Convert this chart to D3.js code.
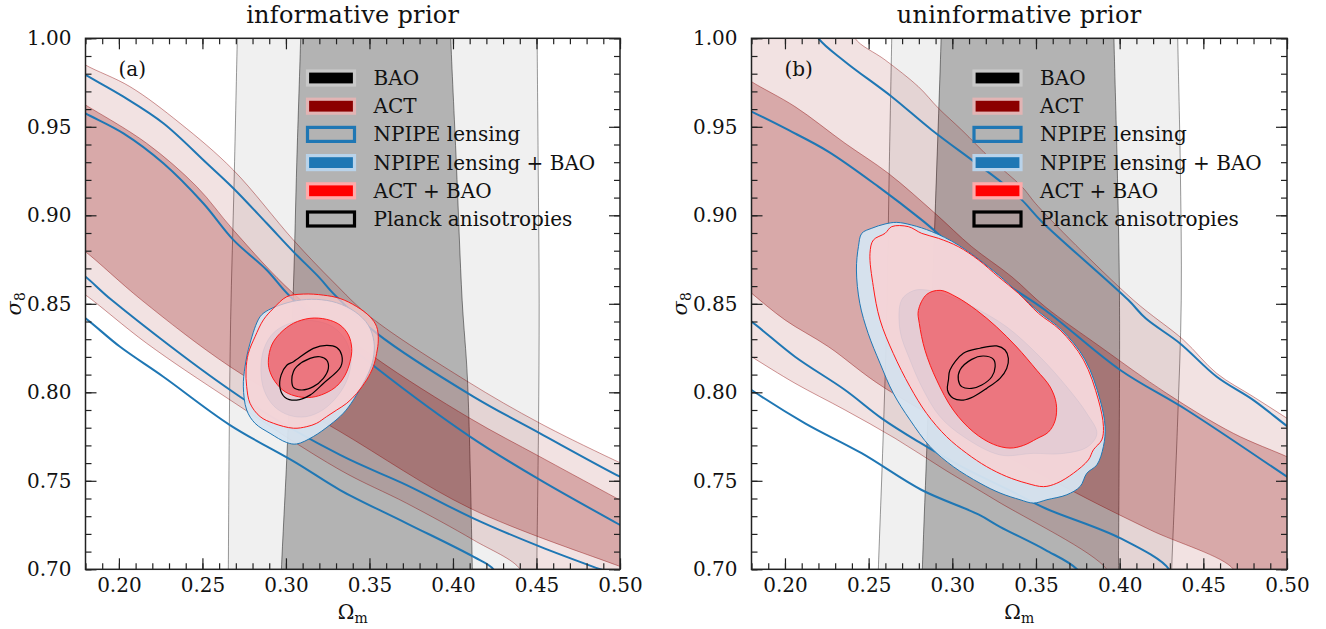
<!DOCTYPE html>
<html>
<head>
<meta charset="utf-8">
<script src="https://cdn.jsdelivr.net/npm/d3@7"></script>
<style>
  body { margin: 0; background: #fff; }
  svg text { font-family: "DejaVu Serif", serif; fill: #111; }
  .axis path.domain { display: none; }
  .axis line { stroke: #222; stroke-width: 1.2; }
  .axis text { font-size: 20px; font-family: "DejaVu Serif", serif; fill: #111; }
</style>
</head>
<body>
<div id="chart"></div>
<script>
// ---- ticks and labels ----
const omMajor = [0.20, 0.25, 0.30, 0.35, 0.40, 0.45, 0.50];
const s8Major = [0.70, 0.75, 0.80, 0.85, 0.90, 0.95, 1.00];
const omMinor = d3.range(18, 51).map(v => v / 100);
const s8Minor = d3.range(70, 101).map(v => v / 100);
const titles = ["informative prior", "uninformative prior"];
const panelTags = ["(a)", "(b)"];
const legendLabels = ["BAO", "ACT", "NPIPE lensing", "NPIPE lensing + BAO", "ACT + BAO", "Planck anisotropies"];

// ---- panel (a): informative prior  [Omega_m, sigma_8] ----
const baoOuterA = [[0.2712,1.01],[0.2709,1.0],[0.2690,0.92],[0.2669,0.841],[0.2660,0.77],[0.2655,0.70],[0.2654,0.69],
  [0.4502,0.69],[0.4502,0.70],[0.4512,0.78],[0.4516,0.85],[0.4510,0.93],[0.4504,1.0],[0.4504,1.01]];
const baoInnerA = [[0.3090,1.01],[0.3088,1.0],[0.3065,0.93],[0.3045,0.86],[0.3009,0.771],[0.2973,0.70],[0.2970,0.69],
  [0.4118,0.69],[0.4116,0.70],[0.4087,0.807],[0.4055,0.852],[0.4020,0.93],[0.3987,1.0],[0.3985,1.01]];

const actOuterUpperA = [[0.17,0.991],[0.18,0.9849],[0.2066,0.9727],[0.2366,0.9520],[0.2685,0.9256],[0.3044,0.8861],
  [0.3283,0.8624],[0.3503,0.8428],[0.4082,0.8064],[0.4521,0.7825],[0.50,0.7602],[0.51,0.756]];
const actOuterLowerA = [[0.17,0.861],[0.18,0.855],[0.2166,0.8277],[0.2665,0.7957],[0.3324,0.7561],[0.3723,0.7373],
  [0.4122,0.7166],[0.4402,0.70],[0.4420,0.69]];
const actInnerUpperA = [[0.17,0.968],[0.18,0.9623],[0.2166,0.9407],[0.2466,0.9162],[0.2685,0.8917],[0.3044,0.8559],
  [0.3524,0.8202],[0.4102,0.7853],[0.4521,0.7636],[0.50,0.7391],[0.51,0.734]];
const actInnerLowerA = [[0.17,0.886],[0.18,0.8794],[0.2136,0.8521],[0.2665,0.8145],[0.3324,0.7778],[0.4102,0.7345],
  [0.50,0.7016],[0.51,0.698]];

const npipe2UpperA = [[0.17,0.985],[0.18,0.9793],[0.2027,0.9670],[0.2266,0.9520],[0.2526,0.9294],[0.2685,0.9153],
  [0.2885,0.8955],[0.3044,0.8795],[0.3204,0.8644],[0.3283,0.8559],[0.3544,0.8333],[0.4122,0.7976],[0.4521,0.7768],
  [0.50,0.7523],[0.51,0.748]];
const npipe2LowerA = [[0.17,0.848],[0.18,0.8418],[0.2007,0.8257],[0.2266,0.8088],[0.2665,0.7815],[0.3064,0.7600],
  [0.3324,0.7448],[0.3723,0.7260],[0.4122,0.7071],[0.4242,0.70],[0.428,0.69]];
const npipe1UpperA = [[0.17,0.963],[0.18,0.9576],[0.2027,0.9463],[0.2266,0.9294],[0.2505,0.9068],[0.2685,0.8861],
  [0.2885,0.8691],[0.3025,0.8541],[0.3544,0.8136],[0.4102,0.7750],[0.4521,0.7505],[0.50,0.7251],[0.51,0.720]];
const npipe1LowerA = [[0.17,0.872],[0.18,0.8653],[0.1957,0.8521],[0.2725,0.7975],[0.3324,0.7646],[0.3723,0.7476],
  [0.4122,0.7288],[0.4521,0.7128],[0.4881,0.70],[0.50,0.696]];

const npipeBaoOuterA = [[0.2895,0.8465],[0.2965,0.8493],[0.3064,0.8518],[0.3184,0.8525],[0.3304,0.8506],[0.3414,0.8455],
  [0.3493,0.8380],[0.3527,0.8286],[0.3523,0.8192],[0.3493,0.8107],[0.3404,0.7957],[0.3344,0.7882],[0.3264,0.7816],
  [0.3164,0.7750],[0.3064,0.7708],[0.3005,0.7716],[0.2905,0.7768],[0.2815,0.7825],[0.2765,0.7900],[0.2745,0.8031],
  [0.2755,0.8145],[0.2785,0.8277],[0.2845,0.8427]];
const npipeBaoInnerA = [[0.2870,0.8250],[0.2930,0.8340],[0.3040,0.8395],[0.3160,0.8405],[0.3280,0.8370],[0.3360,0.8290],
  [0.3390,0.8190],[0.3370,0.8080],[0.3310,0.7980],[0.3220,0.7900],[0.3120,0.7862],[0.3020,0.7870],[0.2930,0.7920],
  [0.2870,0.8010],[0.2850,0.8130]];
const actBaoOuterA = [[0.3005,0.8540],[0.3104,0.8555],[0.3224,0.8549],[0.3324,0.8530],[0.3424,0.8484],[0.3503,0.8427],
  [0.3543,0.8371],[0.3553,0.8296],[0.3543,0.8220],[0.3523,0.8145],[0.3483,0.8070],[0.3424,0.7994],[0.3364,0.7938],
  [0.3304,0.7900],[0.3244,0.7863],[0.3184,0.7825],[0.3125,0.7806],[0.3045,0.7797],[0.2925,0.7825],[0.2845,0.7863],
  [0.2785,0.7938],[0.2765,0.8032],[0.2761,0.8126],[0.2775,0.8220],[0.2815,0.8314],[0.2865,0.8409],[0.2925,0.8474]];
const actBaoInnerA = [[0.2895,0.8182],[0.2915,0.8267],[0.2965,0.8333],[0.3045,0.8390],[0.3144,0.8418],[0.3244,0.8412],
  [0.3324,0.8380],[0.3374,0.8324],[0.3394,0.8248],[0.3384,0.8173],[0.3354,0.8097],[0.3304,0.8035],[0.3234,0.7994],
  [0.3155,0.7972],[0.3075,0.7975],[0.2995,0.8003],[0.2935,0.8060],[0.2901,0.8126]];
const planckOuterA = [[0.3045,0.8173],[0.3164,0.8248],[0.3244,0.8265],[0.3304,0.8253],[0.3334,0.8210],[0.3328,0.8144],
  [0.3224,0.8050],[0.3144,0.7984],[0.3064,0.7956],[0.2995,0.7971],[0.2965,0.8022],[0.2971,0.8097],[0.3005,0.8153]];
const planckInnerA = [[0.3064,0.8145],[0.3144,0.8192],[0.3204,0.8201],[0.3244,0.8182],[0.3254,0.8135],[0.3224,0.8079],
  [0.3164,0.8032],[0.3095,0.8013],[0.3045,0.8028],[0.3035,0.8070],[0.3045,0.8117]];

// ---- panel (b): uninformative prior ----
const baoOuterB = [[0.2640,1.01],[0.2638,1.0],[0.2622,0.92],[0.2608,0.841],[0.2585,0.77],[0.2558,0.70],[0.2555,0.69],
  [0.4309,0.69],[0.4311,0.70],[0.4345,0.78],[0.4368,0.852],[0.4362,0.93],[0.4347,1.0],[0.4346,1.01]];
const baoInnerB = [[0.2935,1.01],[0.2933,1.0],[0.2897,0.90],[0.2847,0.767],[0.2821,0.70],[0.2819,0.69],
  [0.3993,0.69],[0.3993,0.70],[0.3999,0.852],[0.3985,0.93],[0.3966,1.0],[0.3965,1.01]];

const actOuterUpperB = [[0.17,1.01],[0.2400,1.01],[0.2419,1.0],[0.2598,0.9878],[0.2797,0.9727],[0.2917,0.9605],
  [0.3056,0.9482],[0.3236,0.9313],[0.3415,0.9162],[0.3514,0.9049],[0.4082,0.8521],[0.4381,0.8296],[0.4580,0.8107],
  [0.4799,0.7975],[0.50,0.7853],[0.51,0.779]];
const actOuterLowerB = [[0.17,0.826],[0.18,0.8201],[0.2060,0.8051],[0.2359,0.7900],[0.2658,0.7740],[0.2957,0.7561],
  [0.3256,0.7392],[0.3923,0.70],[0.395,0.69]];
const actInnerUpperB = [[0.17,0.982],[0.18,0.9755],[0.2060,0.9614],[0.2359,0.9407],[0.2618,0.9237],[0.2897,0.9011],
  [0.3116,0.8823],[0.3355,0.8653],[0.3554,0.8484],[0.3883,0.8258],[0.4281,0.7994],[0.4680,0.7768],[0.50,0.7636],[0.51,0.759]];
const actInnerLowerB = [[0.17,0.864],[0.18,0.8560],[0.2000,0.8409],[0.2259,0.8258],[0.2598,0.8023],[0.3743,0.7430],
  [0.4182,0.7223],[0.4680,0.70],[0.470,0.69]];

const npipe2UpperB = [[0.17,1.01],[0.215,1.01],[0.2200,1.0],[0.2359,0.9868],[0.2638,0.9670],[0.2877,0.9482],
  [0.3116,0.9313],[0.3276,0.9200],[0.3415,0.9087],[0.3535,0.8964],[0.4052,0.8521],[0.4155,0.8418],[0.4361,0.8276],
  [0.4580,0.8088],[0.4799,0.7956],[0.50,0.7809],[0.51,0.774]];
const npipe2LowerB = [[0.17,0.808],[0.18,0.8013],[0.2120,0.7825],[0.2458,0.7656],[0.2817,0.7448],[0.3156,0.7310],
  [0.3285,0.7240],[0.3555,0.7110],[0.3745,0.70],[0.380,0.69]];
const npipe1UpperB = [[0.17,0.963],[0.18,0.9586],[0.2020,0.9482],[0.2259,0.9360],[0.2558,0.9162],[0.2817,0.8974],
  [0.3056,0.8785],[0.3315,0.8616],[0.3554,0.8465],[0.4003,0.8126],[0.4401,0.7900],[0.50,0.7523],[0.51,0.746]];
const npipe1LowerB = [[0.17,0.846],[0.18,0.8399],[0.2060,0.8201],[0.2359,0.8013],[0.2578,0.7853],[0.2797,0.7721],
  [0.3056,0.7580],[0.3355,0.7440],[0.3555,0.7345],[0.4003,0.7176],[0.4295,0.70],[0.432,0.69]];

const npipeBaoOuterB = [[0.2439,0.8823],[0.2459,0.8898],[0.2519,0.8927],[0.2598,0.8951],[0.2668,0.8960],[0.2757,0.8945],
  [0.2877,0.8908],[0.3036,0.8832],[0.3275,0.8663],[0.3515,0.8456],[0.3654,0.8352],[0.3794,0.8183],[0.3883,0.7957],
  [0.3913,0.7806],[0.3903,0.7694],[0.3864,0.7590],[0.3804,0.7543],[0.3764,0.7468],[0.3684,0.7421],[0.3565,0.7393],
  [0.3485,0.7374],[0.3405,0.7393],[0.3285,0.7431],[0.3166,0.7486],[0.3006,0.7580],[0.2867,0.7693],[0.2747,0.7844],
  [0.2647,0.7995],[0.2568,0.8164],[0.2497,0.8333],[0.2447,0.8503],[0.2427,0.8691]];
const npipeBaoInnerB = [[0.2697,0.8522],[0.2767,0.8574],[0.2847,0.8578],[0.2990,0.8540],[0.3126,0.8482],[0.3326,0.8369],
  [0.3525,0.8199],[0.3685,0.8030],[0.3805,0.7879],[0.3864,0.7766],[0.3805,0.7690],[0.3645,0.7653],[0.3485,0.7655],
  [0.3286,0.7646],[0.3066,0.7750],[0.2926,0.7863],[0.2827,0.8013],[0.2747,0.8183],[0.2687,0.8352]];
const actBaoOuterB = [[0.2598,0.8898],[0.2638,0.8936],[0.2737,0.8936],[0.2817,0.8898],[0.2917,0.8870],[0.3036,0.8823],
  [0.3156,0.8748],[0.3275,0.8653],[0.3395,0.8559],[0.3515,0.8446],[0.3644,0.8352],[0.3784,0.8183],[0.3873,0.7957],
  [0.3903,0.7806],[0.3893,0.7731],[0.3843,0.7675],[0.3813,0.7618],[0.3724,0.7543],[0.3624,0.7486],[0.3545,0.7467],
  [0.3445,0.7486],[0.3325,0.7524],[0.3205,0.7580],[0.3086,0.7655],[0.2966,0.7749],[0.2846,0.7881],[0.2747,0.8032],
  [0.2647,0.8220],[0.2568,0.8409],[0.2528,0.8597],[0.2508,0.8785],[0.2528,0.8860]];
const actBaoInnerB = [[0.2797,0.8462],[0.2847,0.8553],[0.2927,0.8576],[0.3026,0.8538],[0.3146,0.8463],[0.3265,0.8369],
  [0.3385,0.8256],[0.3505,0.8124],[0.3585,0.8030],[0.3621,0.7936],[0.3615,0.7842],[0.3575,0.7776],[0.3505,0.7738],
  [0.3425,0.7700],[0.3345,0.7685],[0.3246,0.7706],[0.3126,0.7776],[0.3006,0.7899],[0.2907,0.8068],[0.2837,0.8237],
  [0.2803,0.8388]];
const planckOuterB = [[0.2986,0.8126],[0.3066,0.8220],[0.3166,0.8249],[0.3265,0.8262],[0.3315,0.8239],[0.3335,0.8192],
  [0.3325,0.8135],[0.3285,0.8079],[0.3205,0.8022],[0.3126,0.7975],[0.3066,0.7956],[0.3006,0.7966],[0.2971,0.8013],
  [0.2977,0.8070]];
const planckInnerB = [[0.3046,0.8126],[0.3116,0.8186],[0.3186,0.8205],[0.3246,0.8186],[0.3256,0.8145],[0.3236,0.8088],
  [0.3176,0.8041],[0.3116,0.8022],[0.3056,0.8032],[0.3036,0.8070]];

// ---- helpers ----
function band(upper, corner, lower) {
    return upper.concat(corner, lower.slice().reverse());
}

const panels = [
    {
        left: 85.5, right: 620, legendX: 307.5,
        bao: [baoOuterA, baoInnerA],
        act: [band(actOuterUpperA, [[0.51, 0.69]], actOuterLowerA), band(actInnerUpperA, [], actInnerLowerA)],
        npipe: [band(npipe2UpperA, [[0.51, 0.68]], npipe2LowerA), band(npipe1UpperA, [[0.51, 0.68]], npipe1LowerA)],
        npipeBao: [npipeBaoOuterA, npipeBaoInnerA],
        actBao: [actBaoOuterA, actBaoInnerA],
        planck: [planckOuterA, planckInnerA]
    },
    {
        left: 751.5, right: 1287, legendX: 974,
        bao: [baoOuterB, baoInnerB],
        act: [band(actOuterUpperB, [[0.51, 0.69]], actOuterLowerB), band(actInnerUpperB, [[0.51, 0.69]], actInnerLowerB)],
        npipe: [band(npipe2UpperB, [[0.51, 0.68]], npipe2LowerB), band(npipe1UpperB, [[0.51, 0.68]], npipe1LowerB)],
        npipeBao: [npipeBaoOuterB, npipeBaoInnerB],
        actBao: [actBaoOuterB, actBaoInnerB],
        planck: [planckOuterB, planckInnerB]
    }
];

const plotTop = 38.3, plotBottom = 569.3;

const svg = d3.select("#chart").append("svg")
    .attr("width", 1326)
    .attr("height", 629);

panels.forEach((p, i) => {

    let x = d3.scaleLinear().domain([0.18, 0.50]).range([p.left, p.right]);
    let y = d3.scaleLinear().domain([0.70, 1.00]).range([plotBottom, plotTop]);

    // closed, gently smoothed outlines
    let smooth = d3.line().x(d => x(d[0])).y(d => y(d[1])).curve(d3.curveCatmullRomClosed.alpha(0.5));

    svg.append("defs").append("clipPath")
        .attr("id", "clip" + i)
        .append("rect")
        .attr("x", p.left).attr("y", plotTop)
        .attr("width", p.right - p.left).attr("height", plotBottom - plotTop);

    let g = svg.append("g").attr("clip-path", "url(#clip" + i + ")");

    // BAO bands
    g.append("path").attr("d", smooth(p.bao[0]))
        .attr("fill", "rgba(0,0,0,0.06)").attr("stroke", "rgba(0,0,0,0.4)").attr("stroke-width", 1);
    g.append("path").attr("d", smooth(p.bao[1]))
        .attr("fill", "rgba(0,0,0,0.255)").attr("stroke", "rgba(0,0,0,0.45)").attr("stroke-width", 1);

    // ACT lensing bands
    g.append("path").attr("d", smooth(p.act[0]))
        .attr("fill", "rgba(139,0,0,0.115)").attr("stroke", "rgba(139,0,0,0.45)").attr("stroke-width", 0.9);
    g.append("path").attr("d", smooth(p.act[1]))
        .attr("fill", "rgba(139,0,0,0.25)").attr("stroke", "rgba(139,0,0,0.45)").attr("stroke-width", 0.9);

    // NPIPE lensing lines
    p.npipe.forEach(c => {
        g.append("path").attr("d", smooth(c))
            .attr("fill", "none").attr("stroke", "#1f77b4").attr("stroke-width", 2);
    });

    // NPIPE lensing + BAO
    g.append("path").attr("d", smooth(p.npipeBao[0]))
        .attr("fill", "#d6e4f0").attr("fill-opacity", 0.95).attr("stroke", "#1f77b4").attr("stroke-width", 1);
    g.append("path").attr("d", smooth(p.npipeBao[1]))
        .attr("fill", "#a8c6e2").attr("stroke", "rgba(31,119,180,0.3)").attr("stroke-width", 1);

    // ACT + BAO
    g.append("path").attr("d", smooth(p.actBao[0]))
        .attr("fill", "#ffcecf").attr("fill-opacity", 0.7).attr("stroke", "#ff1a1a").attr("stroke-width", 1);
    g.append("path").attr("d", smooth(p.actBao[1]))
        .attr("fill", "#f03c46").attr("fill-opacity", 0.6).attr("stroke", "#ff1a1a").attr("stroke-width", 1);

    // Planck anisotropies
    p.planck.forEach(c => {
        g.append("path").attr("d", smooth(c))
            .attr("fill", "none").attr("stroke", "#000").attr("stroke-width", 1.2);
    });

    // Axes (inward ticks on all four sides)
    let fmt = d3.format(".2f");
    svg.append("g").attr("class", "axis")
        .attr("transform", "translate(0," + plotBottom + ")")
        .call(d3.axisBottom(x).tickValues(omMinor).tickSize(-6).tickSizeOuter(0).tickFormat(""));
    svg.append("g").attr("class", "axis")
        .attr("transform", "translate(0," + plotBottom + ")")
        .call(d3.axisBottom(x).tickValues(omMajor).tickSize(-11).tickSizeOuter(0).tickPadding(9).tickFormat(fmt));
    svg.append("g").attr("class", "axis")
        .attr("transform", "translate(0," + plotTop + ")")
        .call(d3.axisTop(x).tickValues(omMinor).tickSize(-6).tickSizeOuter(0).tickFormat(""));
    svg.append("g").attr("class", "axis")
        .attr("transform", "translate(0," + plotTop + ")")
        .call(d3.axisTop(x).tickValues(omMajor).tickSize(-11).tickSizeOuter(0).tickFormat(""));
    svg.append("g").attr("class", "axis")
        .attr("transform", "translate(" + p.left + ",0)")
        .call(d3.axisLeft(y).tickValues(s8Minor).tickSize(-6).tickSizeOuter(0).tickFormat(""));
    svg.append("g").attr("class", "axis")
        .attr("transform", "translate(" + p.left + ",0)")
        .call(d3.axisLeft(y).tickValues(s8Major).tickSize(-11).tickSizeOuter(0).tickPadding(14).tickFormat(fmt));
    svg.append("g").attr("class", "axis")
        .attr("transform", "translate(" + p.right + ",0)")
        .call(d3.axisRight(y).tickValues(s8Minor).tickSize(-6).tickSizeOuter(0).tickFormat(""));
    svg.append("g").attr("class", "axis")
        .attr("transform", "translate(" + p.right + ",0)")
        .call(d3.axisRight(y).tickValues(s8Major).tickSize(-11).tickSizeOuter(0).tickFormat(""));

    // Frame
    svg.append("rect")
        .attr("x", p.left).attr("y", plotTop)
        .attr("width", p.right - p.left).attr("height", plotBottom - plotTop)
        .attr("fill", "none").attr("stroke", "#222").attr("stroke-width", 1.5);

    // Title
    svg.append("text")
        .attr("x", (p.left + p.right) / 2).attr("y", 23)
        .attr("text-anchor", "middle")
        .style("font-size", "24px")
        .style("letter-spacing", "0.3px")
        .text(titles[i]);

    // Panel tag
    svg.append("text")
        .attr("x", p.left + 33).attr("y", 76)
        .style("font-size", "20px")
        .text(panelTags[i]);

    // Axis labels
    let xl = svg.append("text")
        .attr("x", (p.left + p.right) / 2).attr("y", 619)
        .attr("text-anchor", "middle")
        .style("font-size", "20px");
    xl.append("tspan").text("Ω");
    xl.append("tspan").attr("dy", 4).style("font-size", "14px").text("m");

    let yl = svg.append("text")
        .attr("transform", "translate(" + (p.left - 65) + "," + ((plotTop + plotBottom) / 2) + ") rotate(-90)")
        .attr("text-anchor", "middle")
        .style("font-size", "21px");
    yl.append("tspan").style("font-style", "italic").text("σ");
    yl.append("tspan").attr("dy", 4).style("font-size", "14px").text("8");

    // Legend
    let swatches = [
        {fill: "#000", stroke: "#c8c8c8"},
        {fill: "#8b0000", stroke: "#e2b4b4"},
        {fill: "none", stroke: "#1f77b4"},
        {fill: "#1f77b4", stroke: "#b9d3ea"},
        {fill: "#ff0000", stroke: "#ffaaaa"},
        {fill: "none", stroke: "#000"}
    ];
    let lg = svg.append("g").attr("class", "legend");
    legendLabels.forEach((label, k) => {
        let cy = 78 + k * 28.2;
        lg.append("rect")
            .attr("x", p.legendX).attr("y", cy - 7)
            .attr("width", 47).attr("height", 14)
            .attr("fill", swatches[k].fill)
            .attr("stroke", swatches[k].stroke)
            .attr("stroke-width", 3.2);
        lg.append("text")
            .attr("x", p.legendX + 66).attr("y", cy)
            .attr("dy", "0.35em")
            .style("font-size", "20px")
            .text(label);
    });
});
</script>
</body>
</html>
